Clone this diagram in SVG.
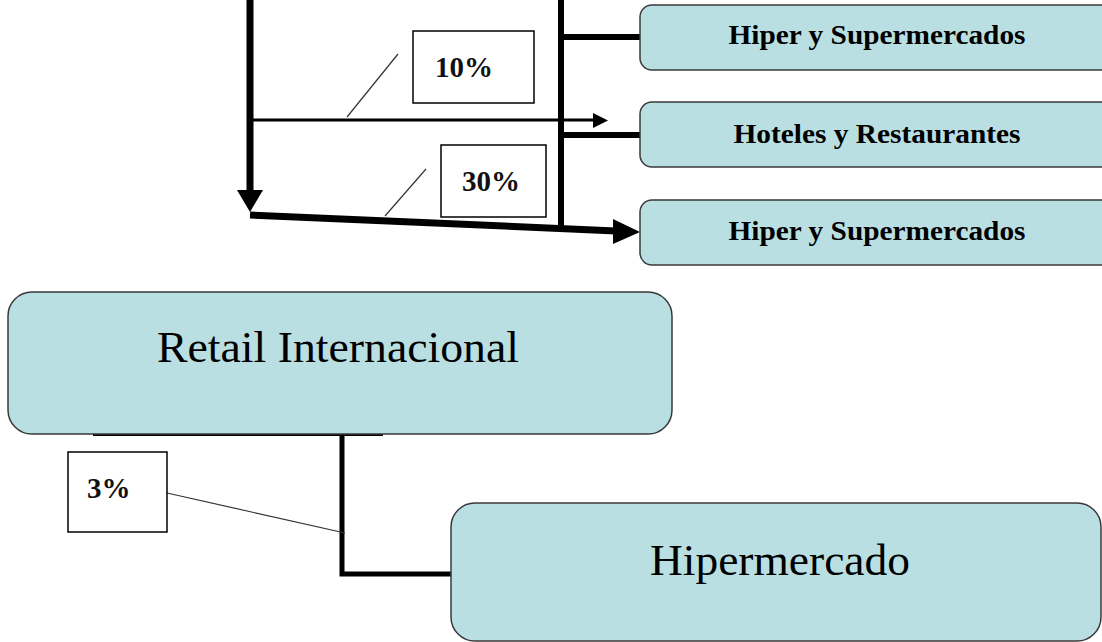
<svg xmlns="http://www.w3.org/2000/svg" width="1102" height="642" viewBox="0 0 1102 642">
<style>
.node rect.box{fill:#B9DFE3;stroke:#3a3a3a;stroke-width:1.5}
.lbl{font-family:"Liberation Serif","Times New Roman",serif;fill:#000}
.small{font-weight:bold;font-size:28px}
.big{font-size:44px}
.pct rect{fill:#fff;stroke:#000;stroke-width:1.5}
.pct text{font-family:"Liberation Serif","Times New Roman",serif;font-weight:bold;font-size:29px;fill:#111}
.leader{stroke:#333;stroke-width:1.2;fill:none}
.conn line,.conn polyline{stroke:#000;fill:none}
</style>
<rect width="1102" height="642" fill="#fff"/>
<g id="connectors" class="conn">
  <line x1="250" y1="0" x2="250" y2="194" stroke-width="7"/>
  <polygon points="237,190 263,190 250,212" fill="#000"/>
  <line x1="250" y1="215" x2="616" y2="231" stroke-width="7"/>
  <polygon points="613,219 613,244 640,232" fill="#000"/>
  <line x1="250" y1="120" x2="595" y2="120" stroke-width="3"/>
  <polygon points="593,113 593,128 608,120.5" fill="#000"/>
  <line x1="561" y1="0" x2="561" y2="228" stroke-width="6"/>
  <line x1="561" y1="37" x2="641" y2="37" stroke-width="6"/>
  <line x1="561" y1="135" x2="641" y2="135" stroke-width="6"/>
  <line x1="93" y1="434" x2="383" y2="434" stroke-width="4"/>
  <polyline points="342,434 342,574 452,574" stroke-width="5"/>
</g>
<g id="node-hiper1" class="node">
  <rect class="box" x="640" y="5" width="480" height="65" rx="12"/>
  <text class="lbl small" x="877" y="44" text-anchor="middle" textLength="297" lengthAdjust="spacingAndGlyphs">Hiper y Supermercados</text>
</g>
<g id="node-hoteles" class="node">
  <rect class="box" x="640" y="102" width="480" height="65" rx="12"/>
  <text class="lbl small" x="877" y="143" text-anchor="middle" textLength="287" lengthAdjust="spacingAndGlyphs">Hoteles y Restaurantes</text>
</g>
<g id="node-hiper2" class="node">
  <rect class="box" x="640" y="200" width="480" height="65" rx="12"/>
  <text class="lbl small" x="877" y="240" text-anchor="middle" textLength="297" lengthAdjust="spacingAndGlyphs">Hiper y Supermercados</text>
</g>
<g id="node-retail" class="node">
  <rect class="box" x="8" y="292" width="664" height="142" rx="24"/>
  <text class="lbl big" x="338" y="362" text-anchor="middle" textLength="362" lengthAdjust="spacingAndGlyphs">Retail Internacional</text>
</g>
<g id="node-hipermercado" class="node">
  <rect class="box" x="451" y="503" width="650" height="138" rx="24"/>
  <text class="lbl big" x="780" y="575" text-anchor="middle" textLength="260" lengthAdjust="spacingAndGlyphs">Hipermercado</text>
</g>
<g id="label-10" class="pct">
  <line class="leader" x1="347" y1="117" x2="398" y2="54"/>
  <rect x="413" y="31" width="121" height="72"/>
  <text x="435" y="77">10%</text>
</g>
<g id="label-30" class="pct">
  <line class="leader" x1="385" y1="216" x2="426" y2="169"/>
  <rect x="441" y="145" width="105" height="72"/>
  <text x="462" y="191">30%</text>
</g>
<g id="label-3" class="pct">
  <line class="leader" x1="167" y1="493" x2="345" y2="533"/>
  <rect x="68" y="452" width="99" height="80"/>
  <text x="87" y="498">3%</text>
</g>
</svg>
